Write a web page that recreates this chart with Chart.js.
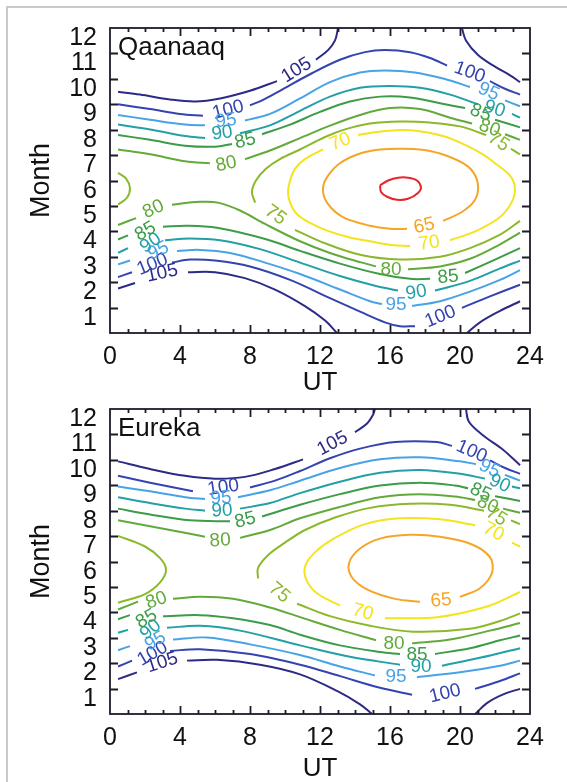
<!DOCTYPE html>
<html>
<head>
<meta charset="utf-8">
<title>Qaanaaq / Eureka</title>
<script src="https://cdn.jsdelivr.net/npm/chart.js@4.4.1/dist/chart.umd.min.js"></script>
<style>
body { margin:0; background:#fff; overflow:hidden; }
#frame { position:absolute; left:6px; top:6px; width:620px; height:820px; border-left:2px solid #cacaca; border-top:2px solid #cacaca; }
canvas { position:absolute; left:0; }
#top { top:0; }
#bottom { top:381px; }
</style>
</head>
<body>
<div id="frame"></div>
<canvas id="top" width="567" height="396"></canvas>
<canvas id="bottom" width="567" height="401"></canvas>
<script>
// axes
const hourTicks = [0, 4, 8, 12, 16, 20, 24];
const monthLabels = ['1','2','3','4','5','6','7','8','9','10','11','12'];

// contour lines, [UT, month], split where the labels sit
const qaanaaq105 = [
  [[0.46,9.49],[1.71,9.38],[3.43,9.19],[4.86,9.11],[6.29,9.23],[8.0,9.53],[9.54,9.91]],
  [[11.77,10.75],[12.46,11.13],[12.86,11.51],[13.03,12.0]],
  [[20.11,12.0],[20.34,11.51],[21.03,10.94],[22.0,10.48],[22.86,10.14],[23.43,9.87]],
  [[0.46,1.75],[1.43,1.97]],
  [[4.46,2.39],[6.0,2.39],[7.71,2.16],[9.43,1.71],[11.14,1.06],[12.29,0.49],[12.97,0]],
  [[20.4,0],[21.14,0.42],[22.29,0.87],[23.43,1.25]]
];
const qaanaaq100 = [
  [[0.46,9.0],[2.29,8.81],[4.0,8.62],[5.31,8.55]],
  [[8.0,8.96],[8.69,9.15],[9.71,9.53],[11.43,10.18],[13.14,10.75],[14.57,11.05],[15.71,11.13],[17.14,11.05],[18.29,10.82],[19.26,10.52]],
  [[21.71,9.91],[22.57,9.61],[23.43,9.38]],
  [[0.46,2.20],[1.26,2.39]],
  [[3.54,2.77],[4.57,2.89],[6.0,2.85],[8.0,2.62],[10.29,2.09],[12.57,1.37],[14.29,0.84],[15.71,0.42],[16.57,0.27],[17.43,0.27]],
  [[20.11,0.99],[21.71,1.44],[23.43,1.90]]
];
const qaanaaq95 = [
  [[0.46,8.58],[2.29,8.39],[4.29,8.20],[5.43,8.17]],
  [[7.71,8.36],[9.14,8.62],[10.86,9.23],[12.57,9.87],[14.29,10.25],[15.71,10.33],[17.43,10.25],[19.14,9.99],[20.57,9.68]],
  [[22.57,9.15],[23.43,8.92]],
  [[0.46,2.70],[1.14,2.85]],
  [[3.83,3.23],[5.14,3.27],[6.86,3.15],[8.86,2.77],[10.86,2.32],[13.14,1.71],[14.86,1.25],[15.54,1.14]],
  [[17.26,1.06],[18.86,1.25],[20.57,1.63],[22.29,2.09],[23.43,2.47]]
];
const qaanaaq90 = [
  [[0.46,8.20],[2.29,8.01],[4.29,7.75],[5.43,7.67]],
  [[7.43,7.86],[9.14,8.17],[10.86,8.74],[12.57,9.30],[14.29,9.65],[16.0,9.72],[17.71,9.65],[19.43,9.38],[21.03,9.0]],
  [[22.97,8.62],[23.43,8.47]],
  [[0.46,3.15],[1.03,3.34]],
  [[3.14,3.65],[4.57,3.72],[6.29,3.65],[8.57,3.30],[10.86,2.77],[13.14,2.24],[15.14,1.86],[16.46,1.67]],
  [[18.57,1.67],[20.57,2.05],[22.29,2.54],[23.43,2.85]]
];
const qaanaaq85 = [
  [[0.46,7.79],[2.29,7.60],[4.29,7.37],[6.0,7.33],[6.97,7.44]],
  [[8.69,7.82],[10.29,8.20],[12.0,8.70],[13.71,9.11],[15.43,9.30],[17.14,9.27],[18.86,9.04],[20.29,8.85]],
  [[22.0,8.39],[23.43,8.09]],
  [[0.46,3.68],[1.03,3.84]],
  [[3.03,4.18],[4.4,4.22],[6.11,4.14],[8.97,3.68],[10.86,3.23],[13.14,2.73],[15.43,2.32],[17.14,2.13],[18.29,2.13]],
  [[20.29,2.36],[22.0,2.89],[23.43,3.34]]
];
const qaanaaq80 = [
  [[0.46,7.22],[2.29,7.03],[4.29,6.76],[5.71,6.68]],
  [[7.71,6.84],[9.14,7.18],[10.86,7.67],[12.57,8.16],[14.29,8.58],[16.0,8.85],[17.71,8.81],[19.43,8.47],[20.69,8.24]],
  [[22.57,7.82],[23.43,7.60]],
  [[0.46,4.25],[1.49,4.52]],
  [[3.54,5.05],[5.14,5.16],[6.17,5.13],[7.43,4.82],[8.86,4.29],[10.86,3.61],[12.57,3.15],[14.4,2.77],[15.2,2.62]],
  [[17.03,2.51],[18.86,2.62],[20.57,2.92],[22.29,3.49],[23.43,3.95]]
];
const qaanaaq75 = [
  [[23.43,7.03],[22.91,7.25]],
  [[21.49,7.79],[20.0,8.13],[18.29,8.28],[16.57,8.32],[14.86,8.24],[13.43,8.01],[12.29,7.71],[10.86,7.22],[9.71,6.84],[8.91,6.46],[8.34,6.0],[8.11,5.55],[8.29,5.13]],
  [[10.57,4.06],[12.29,3.53],[14.29,3.08],[16.57,2.89],[18.86,3.0],[20.57,3.34],[22.29,3.87],[23.43,4.41]],
  [[0.46,6.30],[0.91,6.08],[1.14,5.70],[0.97,5.32],[0.46,5.05]]
];
const qaanaaq70 = [
  [[19.43,3.65],[20.97,4.03],[22.29,4.56],[22.97,5.17],[23.14,5.70],[22.86,6.19],[22.0,6.68],[21.31,7.03],[20.17,7.44],[19.03,7.75],[17.71,7.94],[16.4,7.98],[15.14,7.90],[14.17,7.79]],
  [[12.17,7.22],[11.14,6.84],[10.57,6.46],[10.29,6.0],[10.17,5.55],[10.29,5.13],[10.69,4.67],[11.43,4.33],[12.4,4.03],[13.71,3.76],[14.86,3.61],[16.11,3.46],[17.14,3.42]]
];
const qaanaaq65 = [
  [[19.03,4.41],[20.17,4.79],[20.86,5.24],[21.03,5.81],[20.74,6.34],[20.17,6.68],[18.86,7.06],[17.71,7.22],[16.74,7.25],[15.43,7.22],[14.29,7.06],[13.14,6.68],[12.46,6.19],[12.17,5.70],[12.4,5.13],[13.31,4.56],[14.86,4.22],[16.0,4.10],[16.97,4.10]]
];
const qaanaaq60 = [
  [[15.43,5.81],[15.89,6.0],[16.46,6.11],[17.03,6.11],[17.54,6.0],[17.77,5.73],[17.6,5.51],[17.03,5.28],[16.4,5.24],[15.83,5.36],[15.49,5.55],[15.43,5.81]]
];
// [level, UT, month]
const qaanaaqLabels = [
  [105,10.63,10.37],[105,2.97,2.39],
  [100,6.74,8.81],[100,20.57,10.29],[100,2.4,2.73],[100,18.86,0.68],
  [95,6.63,8.39],[95,21.66,9.53],[95,2.74,3.27],[95,16.34,1.14],
  [90,6.4,7.9],[90,22.0,8.85],[90,2.29,3.57],[90,17.49,1.63],
  [85,7.71,7.60],[85,21.2,8.7],[85,2.0,4.03],[85,19.31,2.24],
  [80,6.63,6.68],[80,21.71,8.09],[80,2.46,4.90],[80,16.06,2.54],
  [75,22.23,7.56],[75,9.49,4.67],
  [70,13.14,7.56],[70,18.23,3.57],
  [65,17.94,4.25]
];
const qaanaaqLabelAngles = [-32,-12, -14,20,-22,-22, -7,24,-25,0, -8,18,-35,-10, -14,22,-30,-5, -12,20,-25,0, 32,36, -22,-9, -12];

const eureka105 = [
  [[0.46,9.94],[2.29,9.64],[4.29,9.37],[6.0,9.26],[7.71,9.33],[9.43,9.64],[11.03,10.02]],
  [[14.0,11.09],[14.69,11.43],[15.03,11.77],[15.14,12.0]],
  [[20.34,12.0],[20.51,11.50],[21.31,10.97],[22.46,10.40],[23.43,9.79]],
  [[0.46,1.37],[1.54,1.64]],
  [[4.4,2.10],[6.11,2.13],[8.57,1.94],[10.86,1.56],[12.97,0.91],[14.29,0.38],[14.97,0]],
  [[20.86,0],[21.6,0.46],[22.57,0.80],[23.43,0.99]]
];
const eureka100 = [
  [[0.46,9.37],[2.29,9.10],[4.74,8.76]],
  [[8.0,8.91],[9.43,9.18],[10.86,9.56],[12.57,10.06],[14.29,10.44],[16.29,10.70],[18.69,10.70],[19.54,10.55]],
  [[21.71,9.98],[22.57,9.68],[23.43,9.45]],
  [[0.46,1.87],[1.26,2.10]],
  [[3.43,2.48],[5.14,2.55],[8.0,2.36],[10.86,1.94],[13.14,1.49],[15.43,1.03],[17.26,0.76]],
  [[20.86,0.99],[22.29,1.30],[23.43,1.60]]
];
const eureka95 = [
  [[0.46,8.95],[2.29,8.76],[4.29,8.53],[5.43,8.46]],
  [[7.31,8.53],[9.14,8.80],[10.86,9.18],[13.14,9.68],[15.43,10.02],[17.71,10.10],[20.0,9.94],[20.91,9.83]],
  [[22.57,9.41],[23.43,9.18]],
  [[0.46,2.51],[1.14,2.67]],
  [[3.6,2.93],[5.54,3.01],[8.0,2.74],[10.86,2.32],[13.14,1.87],[15.14,1.52]],
  [[17.54,1.45],[20.0,1.64],[22.29,1.90],[23.43,2.10]]
];
const eureka90 = [
  [[0.46,8.53],[2.29,8.30],[4.29,8.08],[5.43,8.0]],
  [[7.43,8.08],[9.14,8.30],[10.86,8.69],[13.14,9.14],[15.43,9.49],[17.71,9.60],[20.0,9.45],[21.43,9.26]],
  [[22.97,8.95],[23.43,8.88]],
  [[0.46,3.20],[1.03,3.31]],
  [[3.26,3.39],[5.14,3.47],[7.43,3.28],[10.86,2.70],[13.71,2.25],[16.57,1.94]],
  [[18.97,1.90],[21.14,2.21],[23.43,2.59]]
];
const eureka85 = [
  [[0.46,8.08],[2.29,7.85],[4.57,7.62],[6.86,7.58]],
  [[8.69,7.77],[10.86,8.23],[13.14,8.65],[15.43,8.99],[17.71,9.10],[19.71,8.99],[20.46,8.88]],
  [[22.0,8.57],[23.43,8.38]],
  [[0.46,3.73],[1.14,3.89]],
  [[3.03,3.85],[5.14,3.89],[7.03,3.77],[9.14,3.50],[10.86,3.12],[13.14,2.70],[15.43,2.44],[16.57,2.36]],
  [[18.57,2.36],[20.57,2.59],[22.29,2.90],[23.43,3.09]]
];
const eureka80 = [
  [[0.46,7.62],[2.29,7.39],[4.57,7.09],[5.43,6.97]],
  [[7.43,6.93],[9.14,7.24],[10.86,7.70],[13.14,8.15],[15.43,8.53],[17.71,8.65],[20.0,8.53],[20.86,8.42]],
  [[22.46,8.08],[23.43,7.92]],
  [[0.46,4.11],[1.6,4.42]],
  [[3.6,4.53],[5.14,4.61],[7.03,4.53],[9.14,4.19],[10.86,3.81],[13.14,3.31],[15.2,2.90]],
  [[17.26,2.78],[19.43,2.93],[21.71,3.28],[23.43,3.58]]
];
const eureka75 = [
  [[23.43,7.47],[22.91,7.62]],
  [[21.37,8.0],[19.43,8.23],[17.14,8.27],[14.86,8.11],[12.86,7.73],[11.14,7.24],[10.0,6.74],[9.03,6.25],[8.46,5.75],[8.46,5.33]],
  [[10.69,4.34],[12.57,3.85],[14.86,3.47],[17.31,3.24],[20.57,3.35],[22.29,3.66],[23.43,3.96]],
  [[0.46,7.01],[2.0,6.59],[2.86,6.13],[3.2,5.68],[2.86,5.18],[2.0,4.72],[0.46,4.38]]
];
const eureka70 = [
  [[23.43,6.59],[22.97,6.74]],
  [[20.86,7.43],[18.86,7.66],[16.57,7.70],[14.57,7.47],[12.86,6.93],[11.71,6.36],[11.14,5.79],[11.26,5.22],[11.89,4.72],[13.14,4.27]],
  [[15.71,3.77],[18.69,3.81],[21.54,4.23],[23.43,4.80]]
];
const eureka65 = [
  [[20.0,4.61],[21.14,4.95],[21.83,5.56],[21.71,6.17],[20.69,6.67],[18.86,6.97],[17.14,7.05],[15.43,6.90],[14.29,6.51],[13.66,5.94],[13.83,5.37],[14.74,4.88],[16.29,4.53],[17.71,4.42]]
];
const eurekaLabels = [
  [105,12.69,10.67],[105,2.97,2.06],
  [100,6.46,8.95],[100,20.69,10.36],[100,2.4,2.40],[100,19.14,0.84],
  [95,6.34,8.53],[95,21.71,9.68],[95,2.57,2.90],[95,16.34,1.49],
  [90,6.4,8.04],[90,22.29,9.10],[90,2.29,3.35],[90,17.77,1.90],
  [85,7.71,7.66],[85,21.2,8.76],[85,2.06,3.77],[85,17.54,2.36],
  [80,6.29,6.86],[80,21.6,8.27],[80,2.63,4.50],[80,16.23,2.82],
  [75,22.11,7.81],[75,9.71,4.80],
  [70,21.94,7.2],[70,14.46,4.04],
  [65,18.91,4.50]
];
const eurekaLabelAngles = [-28,-18, -8,24,-30,-14, -3,26,-30,0, -3,24,-40,0, -14,24,-30,0, -3,24,-20,0, 32,40, 27,16, -5];

const levelColors = {
  105: '#2c2a86', 100: '#3443b0', 95: '#48a3e6', 90: '#22a0a6', 85: '#3c9c48',
  80: '#62aa3a', 75: '#8cb82c', 70: '#f3e41c', 65: '#f5a626', 60: '#e6252c'
};

Chart.defaults.font.family = '"Liberation Sans", Arial, Helvetica, sans-serif';
Chart.defaults.color = '#111';

function contourSets(levels) {
  const sets = [];
  levels.forEach(([level, segs]) => {
    segs.forEach(seg => {
      sets.push({
        data: seg.map(([x, y]) => ({x, y})),
        showLine: true,
        borderColor: levelColors[level],
        borderWidth: 2,
        pointRadius: 0,
        tension: 0.35,
        fill: false
      });
    });
  });
  return sets;
}

function decor(station, labels, angles) {
  return {
    id: 'decor',
    afterDatasetsDraw(chart) {
      const {ctx, chartArea: a, scales: {x, y}} = chart;
      ctx.save();
      // contour labels
      ctx.font = '19px "Liberation Sans", Arial, sans-serif';
      ctx.textAlign = 'center';
      ctx.textBaseline = 'middle';
      labels.forEach(([lvl, ut, m], i) => {
        ctx.save();
        ctx.translate(x.getPixelForValue(ut), y.getPixelForValue(m));
        ctx.rotate(angles[i] * Math.PI / 180);
        ctx.fillStyle = levelColors[lvl];
        ctx.fillText(String(lvl), 0, 1);
        ctx.restore();
      });
      // frame and inward ticks
      ctx.strokeStyle = '#1d1b2b';
      ctx.lineWidth = 1.8;
      ctx.strokeRect(a.left, a.top, a.right - a.left, a.bottom - a.top);
      ctx.beginPath();
      for (let m = 1; m <= 11; m++) {
        const py = Math.round(y.getPixelForValue(m)) + 0.5;
        ctx.moveTo(a.left, py); ctx.lineTo(a.left + 8, py);
        ctx.moveTo(a.right, py); ctx.lineTo(a.right - 8, py);
      }
      for (let h = 1; h <= 23; h++) {
        const px = Math.round(x.getPixelForValue(h)) + 0.5;
        const len = h % 4 === 0 ? 8 : 4;
        ctx.moveTo(px, a.bottom); ctx.lineTo(px, a.bottom - len);
        ctx.moveTo(px, a.top); ctx.lineTo(px, a.top + len);
      }
      ctx.stroke();
      // station name
      ctx.fillStyle = '#111';
      ctx.textAlign = 'left';
      ctx.textBaseline = 'alphabetic';
      ctx.font = '26px "Liberation Sans", Arial, sans-serif';
      ctx.fillText(station, a.left + 8, a.top + 27);
      ctx.restore();
    }
  };
}

function makeChart(id, station, levels, labels, angles, topPad, canvasH) {
  new Chart(document.getElementById(id), {
    type: 'scatter',
    data: { datasets: contourSets(levels) },
    options: {
      responsive: false,
      animation: false,
      events: [],
      layout: { padding: { left: 0, right: 37, top: topPad, bottom: 0 } },
      plugins: { legend: { display: false }, tooltip: { enabled: false } },
      scales: {
        x: {
          type: 'linear', min: 0, max: 24,
          afterBuildTicks: s => { s.ticks = hourTicks.map(v => ({value: v})); },
          afterFit: s => { s.height = canvasH - 333; },
          grid: { display: false, drawTicks: false },
          border: { display: false },
          ticks: { autoSkip: false, maxRotation: 0, padding: 9, font: { size: 25 }, color: '#111' },
          title: { display: true, text: 'UT', font: { size: 26, lineHeight: 1 }, padding: 0, color: '#111' }
        },
        y: {
          type: 'linear', min: 0, max: 12,
          afterBuildTicks: s => { s.ticks = monthLabels.map((t, i) => ({value: i + 0.6})); },
          afterFit: s => { s.width = 110; },
          grid: { display: false, drawTicks: false },
          border: { display: false },
          ticks: { autoSkip: false, padding: 13, font: { size: 25 }, color: '#111',
                   callback: (v, i) => monthLabels[i] },
          title: { display: true, text: 'Month', font: { size: 27, lineHeight: 1 }, padding: { top: 28 }, color: '#111' }
        }
      }
    },
    plugins: [decor(station, labels, angles)]
  });
}

makeChart('top', 'Qaanaaq', [
  [105, qaanaaq105], [100, qaanaaq100], [95, qaanaaq95], [90, qaanaaq90], [85, qaanaaq85],
  [80, qaanaaq80], [75, qaanaaq75], [70, qaanaaq70], [65, qaanaaq65], [60, qaanaaq60]
], qaanaaqLabels, qaanaaqLabelAngles, 17, 396);

makeChart('bottom', 'Eureka', [
  [105, eureka105], [100, eureka100], [95, eureka95], [90, eureka90], [85, eureka85],
  [80, eureka80], [75, eureka75], [70, eureka70], [65, eureka65]
], eurekaLabels, eurekaLabelAngles, 18, 401);
</script>
</body>
</html>
